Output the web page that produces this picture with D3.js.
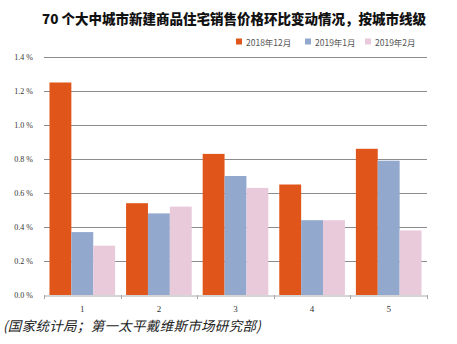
<!DOCTYPE html>
<html><head><meta charset="utf-8">
<script src="https://cdn.jsdelivr.net/npm/d3@7"></script>
<style>body{margin:0;background:#fff;} svg{display:block;}</style>
</head><body>
<script>
const categories = ["1","2","3","4","5"];
const seriesNames = ["2018年12月","2019年1月","2019年2月"];
const dec2018 = [1.25,0.54,0.83,0.65,0.86];
const jan2019 = [0.37,0.48,0.70,0.44,0.79];
const feb2019 = [0.29,0.52,0.63,0.44,0.38];
const yTicks = [0,0.2,0.4,0.6,0.8,1.0,1.2,1.4];
const colors = ["#E0561A","#92A8CC","#E8CADB"];
const series = [dec2018, jan2019, feb2019];

(function(){
const W=457,H=344;
const svg=d3.select("body").append("svg").attr("width",W).attr("height",H);
const fontCJK='"Noto Sans CJK SC","Noto Sans",sans-serif';
const mL=44,mR=427,mT=57,mB=295;
const x=d3.scaleBand().domain(categories).range([mL,mR]).paddingInner(0.143).paddingOuter(0.0715);
const x0=d3.scaleBand().domain(categories).range([mL,mR]);
const xs=d3.scaleBand().domain([0,1,2]).range([0,x.bandwidth()]);
const y=d3.scaleLinear().domain([0,1.4]).range([mB,mT]);

svg.append("g").selectAll("line").data(yTicks.filter(d=>d>0)).join("line")
  .attr("x1",mL).attr("x2",mR).attr("y1",d=>Math.round(y(d))+0.5).attr("y2",d=>Math.round(y(d))+0.5)
  .attr("stroke","#8c8c8c").attr("stroke-width",1);

svg.append("g").selectAll("text").data(yTicks).join("text")
  .attr("x",33).attr("y",d=>y(d)+3).attr("text-anchor","end")
  .attr("font-family","Liberation Serif, serif").attr("font-size",8).attr("fill","#333")
  .text(d=>d.toFixed(1)+" %");

series.forEach((s,i)=>{
  svg.append("g").selectAll("rect").data(s).join("rect")
    .attr("x",(d,j)=>x(categories[j])+xs(i)).attr("width",xs.bandwidth())
    .attr("y",d=>y(d)).attr("height",d=>y(0)-y(d)).attr("fill",colors[i]);
});

const xAxis=d3.axisBottom(x0).tickSize(0).tickFormat("");
const ax=svg.append("g").attr("transform",`translate(0,${mB+0.5})`).call(xAxis);
ax.select(".domain").attr("stroke","#aaa");
svg.append("g").selectAll("line").data(d3.range(categories.length+1)).join("line")
  .attr("x1",d=>Math.round(mL+d*x0.step())+0.5).attr("x2",d=>Math.round(mL+d*x0.step())+0.5)
  .attr("y1",mB).attr("y2",mB+4).attr("stroke","#aaa");
svg.append("g").selectAll("text").data(categories).join("text")
  .attr("x",d=>x0(d)+x0.bandwidth()/2).attr("y",mB+17).attr("text-anchor","middle")
  .attr("font-family","Liberation Serif, serif").attr("font-size",9).attr("fill","#333").text(d=>d);

svg.append("text").attr("x",234).attr("y",24).attr("text-anchor","middle")
  .attr("font-family",fontCJK).attr("font-weight","900").attr("font-size",13.5).attr("fill","#111")
  .text("70 个大中城市新建商品住宅销售价格环比变动情况，按城市线级");

const legX=[236,305,365];
seriesNames.forEach((n,i)=>{
  svg.append("rect").attr("x",legX[i]).attr("y",38.5).attr("width",6).attr("height",6).attr("fill",colors[i]);
  svg.append("text").attr("x",legX[i]+10).attr("y",45.5).attr("font-family",fontCJK)
    .attr("font-size",8.5).attr("fill","#555").text(n);
});

svg.append("text").attr("x",3).attr("y",331).attr("font-family",fontCJK).attr("font-style","italic")
  .attr("font-size",13.5).attr("letter-spacing",0.3).attr("fill","#222")
  .text("(国家统计局；第一太平戴维斯市场研究部)");
})();
</script>
</body></html>
